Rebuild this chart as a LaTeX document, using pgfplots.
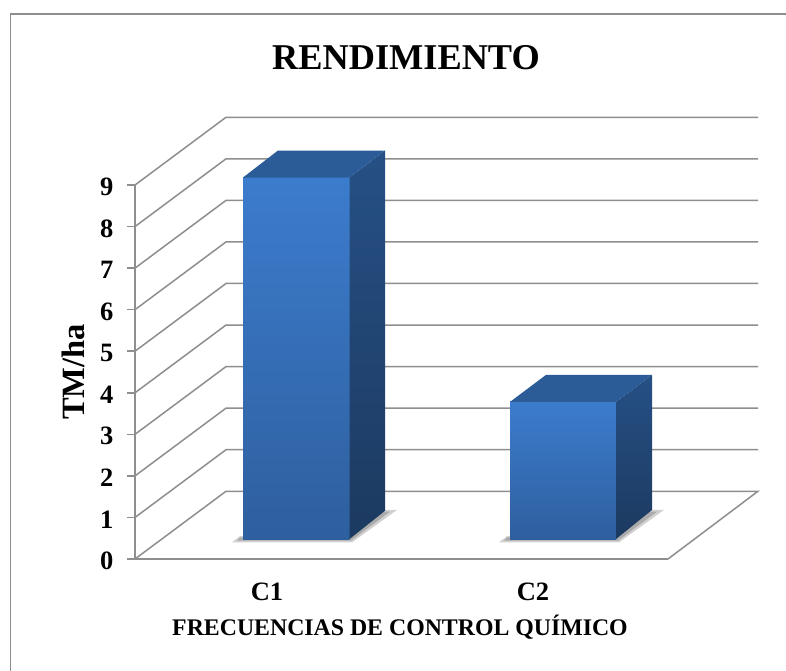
\documentclass[border=0pt]{standalone}
\usepackage{fontspec}
\setmainfont{Liberation Serif}
\usepackage{pgfplots}
\pgfplotsset{compat=1.18}
\definecolor{gridc}{HTML}{8E8E8E}
\definecolor{frontT}{HTML}{3C7CCD}
\definecolor{frontB}{HTML}{2E5F9E}
\definecolor{sideT}{HTML}{265085}
\definecolor{sideB}{HTML}{1C3A60}
\definecolor{topc}{HTML}{2B5C97}
\begin{document}
\begin{tikzpicture}[x=1pt,y=1pt]
\useasboundingbox (0,0) rectangle (786,671);
\fill[white] (0,0) rectangle (786,671);
\draw[color=gridc,line width=1.6pt] (10.5,0) -- (10.5,657) -- (786,657);
\begin{axis}[
  at={(135pt,112pt)},anchor=south west,
  scale only axis,width=533pt,height=374pt,
  xmin=135,xmax=668,ymin=0,ymax=9,
  clip=false,
  axis x line*=bottom,axis y line*=left,
  axis line style={-,color=gridc,line width=1.6pt},
  xtick={267,533},xticklabels={C1,C2},
  ytick={0,1,2,3,4,5,6,7,8,9},
  x tick style={draw=none},
  y tick style={color=gridc,line width=1.5pt},
  major tick length=8pt,
  tick align=outside,
  /pgf/number format/assume math mode=true,
  ticklabel style={font=\fontsize{26.5}{26}\selectfont\bfseries,text=black},
  x tick label style={yshift=-12pt},
  y tick label style={xshift=-10pt,yshift=-2pt},
  title={RENDIMIENTO},
  title style={at={(axis cs:406,11.92)},anchor=center,font=\fontsize{36.3}{36}\selectfont\bfseries},
  xlabel={FRECUENCIAS DE CONTROL QUÍMICO},
  xlabel style={at={(axis cs:400,-1.64)},anchor=center,font=\fontsize{23.8}{24}\selectfont\bfseries},
  ylabel={TM/ha},
  ylabel style={at={(axis cs:73,4.5)},anchor=center,rotate=0,font=\fontsize{32.5}{33}\selectfont\bfseries},
]
% walls and floor
\addplot[gridc,line width=1.5pt] coordinates {(135,0)(226,1.63)(758,1.63)(668,0)};
\addplot[gridc,line width=1.5pt] coordinates {(135,1)(226,2.63)(758,2.63)};
\addplot[gridc,line width=1.5pt] coordinates {(135,2)(226,3.63)(758,3.63)};
\addplot[gridc,line width=1.5pt] coordinates {(135,3)(226,4.63)(758,4.63)};
\addplot[gridc,line width=1.5pt] coordinates {(135,4)(226,5.63)(758,5.63)};
\addplot[gridc,line width=1.5pt] coordinates {(135,5)(226,6.63)(758,6.63)};
\addplot[gridc,line width=1.5pt] coordinates {(135,6)(226,7.63)(758,7.63)};
\addplot[gridc,line width=1.5pt] coordinates {(135,7)(226,8.63)(758,8.63)};
\addplot[gridc,line width=1.5pt] coordinates {(135,8)(226,9.63)(758,9.63)};
\addplot[gridc,line width=1.5pt] coordinates {(135,9)(226,10.63)(758,10.63)};
% shadows
\addplot[draw=none,fill=black,opacity=.18] coordinates {(232,0.40)(352,0.40)(397,1.18)(380,1.18)(350,0.55)(240,0.55)} --cycle;
\addplot[draw=none,fill=black,opacity=.18] coordinates {(237,0.44)(351,0.44)(390,1.14)(380,1.14)(350,0.52)(240,0.52)} --cycle;
\addplot[draw=none,fill=black,opacity=.18] coordinates {(499,0.40)(619,0.40)(664,1.18)(647,1.18)(617,0.55)(507,0.55)} --cycle;
\addplot[draw=none,fill=black,opacity=.18] coordinates {(504,0.44)(618,0.44)(657,1.14)(647,1.14)(617,0.52)(507,0.52)} --cycle;
% bar C1
\addplot[draw=none,top color=frontT,bottom color=frontB] coordinates {(243,0.48)(349.5,0.48)(349.5,9.18)(243,9.18)} --cycle;
\addplot[draw=none,top color=sideT,bottom color=sideB] coordinates {(349.5,0.48)(385,1.16)(385,9.83)(349.5,9.18)} --cycle;
\addplot[draw=none,fill=topc] coordinates {(243,9.18)(278,9.83)(385,9.83)(349.5,9.18)} --cycle;
% bar C2
\addplot[draw=none,top color=frontT,bottom color=frontB] coordinates {(510,0.48)(616,0.48)(616,3.78)(510,3.78)} --cycle;
\addplot[draw=none,top color=sideT,bottom color=sideB] coordinates {(616,0.48)(652,1.18)(652,4.43)(616,3.78)} --cycle;
\addplot[draw=none,fill=topc] coordinates {(510,3.78)(546,4.43)(652,4.43)(616,3.78)} --cycle;
\end{axis}
\end{tikzpicture}
\end{document}
